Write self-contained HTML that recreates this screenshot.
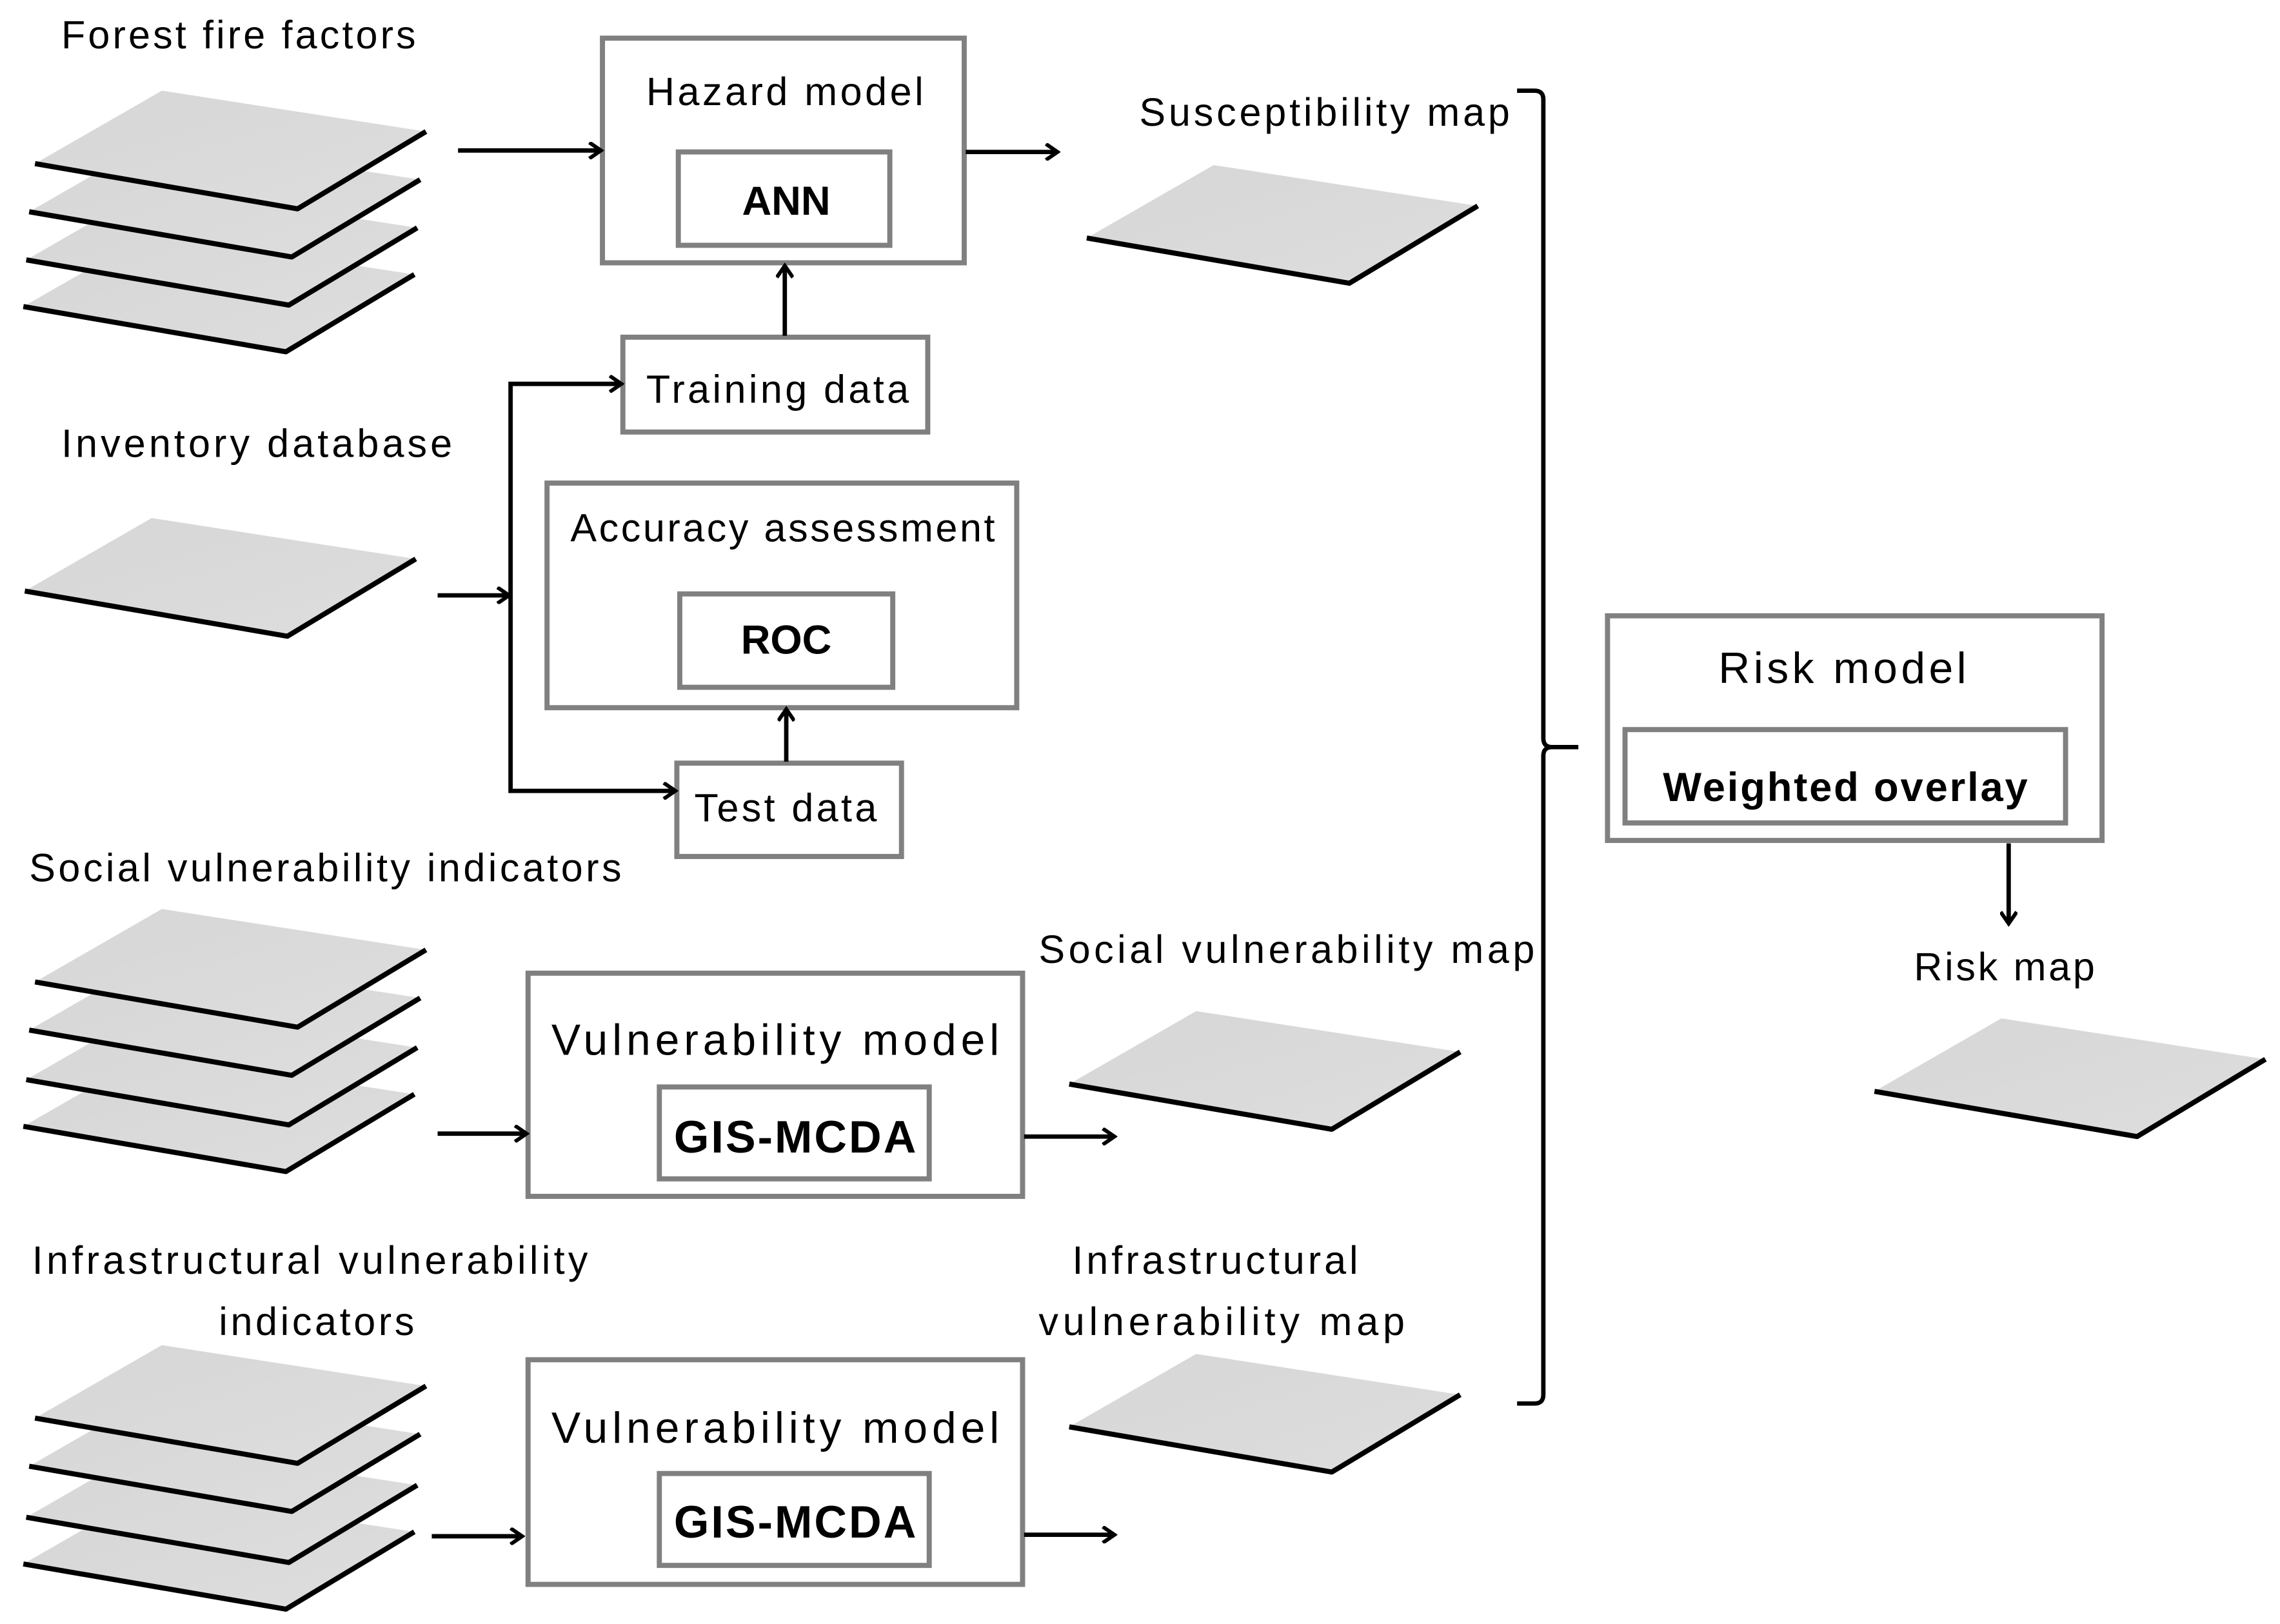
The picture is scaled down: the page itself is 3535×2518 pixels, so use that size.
<!DOCTYPE html>
<html><head><meta charset="utf-8"><style>
html,body{margin:0;padding:0;background:#fff;}
svg{display:block;}
text{font-family:"Liberation Sans",sans-serif;fill:#000;}
</style></head><body>
<svg width="3535" height="2518" viewBox="0 0 1563 1113" xmlns="http://www.w3.org/2000/svg">
<defs>
<linearGradient id="g" x1="0" y1="0" x2="1" y2="1">
<stop offset="0" stop-color="#d6d6d6"/><stop offset="0.8" stop-color="#dcdcdc"/><stop offset="1" stop-color="#f0f0f0"/>
</linearGradient>
<g id="L">
<polygon points="0,50 87,0 268,28 180,81" fill="url(#g)"/>
<polyline points="0,50 180,81 268,28" fill="none" stroke="#000" stroke-width="3.5" stroke-linejoin="round"/>
</g>
<marker id="a" markerWidth="12" markerHeight="12" refX="10" refY="6" orient="auto" markerUnits="userSpaceOnUse">
<polyline points="2,0.5 10,6 2,11.5" fill="none" stroke="#000" stroke-width="2.6"/>
</marker>
</defs>

<!-- layer stacks -->
<use href="#L" x="16" y="160"/><use href="#L" x="18" y="128"/><use href="#L" x="20" y="95"/><use href="#L" x="24" y="62"/>
<use href="#L" x="17" y="355"/>
<use href="#L" x="16" y="722"/><use href="#L" x="18" y="690"/><use href="#L" x="20" y="656"/><use href="#L" x="24" y="623"/>
<use href="#L" x="16" y="1022"/><use href="#L" x="18" y="990"/><use href="#L" x="20" y="955"/><use href="#L" x="24" y="922"/>
<use href="#L" x="745" y="113"/>
<use href="#L" x="733" y="693"/>
<use href="#L" x="733" y="928"/>
<use href="#L" x="1285" y="698"/>

<!-- boxes -->
<g fill="#fff" stroke="#808080" stroke-width="3.5">
<rect x="413" y="26" width="248" height="154"/>
<rect x="465" y="104" width="145" height="64"/>
<rect x="427" y="231" width="209" height="65"/>
<rect x="375" y="331" width="322" height="154"/>
<rect x="466" y="407" width="146" height="64"/>
<rect x="464" y="523" width="154" height="64"/>
<rect x="362" y="667" width="339" height="153"/>
<rect x="452" y="745" width="185" height="63"/>
<rect x="362" y="932" width="339" height="154"/>
<rect x="452" y="1010" width="185" height="63"/>
<rect x="1102" y="422" width="339" height="154"/>
<rect x="1114" y="500" width="302" height="64"/>
</g>

<!-- arrows -->
<g stroke="#000" stroke-width="3" fill="none" marker-end="url(#a)">
<line x1="314" y1="103" x2="412" y2="103"/>
<line x1="662" y1="104" x2="725" y2="104"/>
<line x1="538" y1="230" x2="538" y2="182"/>
<line x1="300" y1="408" x2="349" y2="408"/>
<polyline points="350,400 350,263 426,263"/>
<polyline points="350,400 350,542 463,542"/>
<line x1="539" y1="522" x2="539" y2="486"/>
<line x1="300" y1="777" x2="361" y2="777"/>
<line x1="702" y1="779" x2="764" y2="779"/>
<line x1="296" y1="1053" x2="358" y2="1053"/>
<line x1="702" y1="1052" x2="764" y2="1052"/>
<line x1="1377" y1="578" x2="1377" y2="633"/>
</g>
<!-- bracket -->
<path d="M1040,62 L1052,62 Q1058,62 1058,68 L1058,506 Q1058,512 1064,512 L1082,512 M1064,512 Q1058,512 1058,518 L1058,956 Q1058,962 1052,962 L1040,962" fill="none" stroke="#000" stroke-width="3"/>

<!-- labels -->
<g font-size="27">
<text x="42" y="33" textLength="243">Forest fire factors</text>
<text x="42" y="313" textLength="268">Inventory database</text>
<text x="20" y="604" textLength="406">Social vulnerability indicators</text>
<text x="22" y="873" textLength="381">Infrastructural  vulnerability</text>
<text x="150" y="915" textLength="134">indicators</text>
<text x="781" y="86" textLength="254">Susceptibility map</text>
<text x="712" y="660" textLength="340">Social vulnerability  map</text>
<text x="735" y="873" textLength="196">Infrastructural</text>
<text x="712" y="915" textLength="251">vulnerability  map</text>
<text x="1312" y="672" textLength="124">Risk map</text>
<text x="443" y="72" textLength="190">Hazard model</text>
<text x="443" y="276" textLength="180">Training data</text>
<text x="391" y="371" textLength="291">Accuracy assessment</text>
<text x="476" y="563" textLength="125">Test data</text>
</g>
<g font-size="30">
<text x="378" y="723" textLength="307">Vulnerability model</text>
<text x="378" y="989" textLength="307">Vulnerability model</text>
<text x="1178" y="468" textLength="170">Risk model</text>
</g>
<g font-size="28" font-weight="bold" text-anchor="middle">
<text x="539" y="147">ANN</text>
<text x="539" y="448">ROC</text>
<text x="545" y="790" font-size="31" textLength="166">GIS-MCDA</text>
<text x="545" y="1054" font-size="31" textLength="166">GIS-MCDA</text>
<text x="1265" y="549" textLength="250">Weighted overlay</text>
</g>
</svg>
</body></html>
